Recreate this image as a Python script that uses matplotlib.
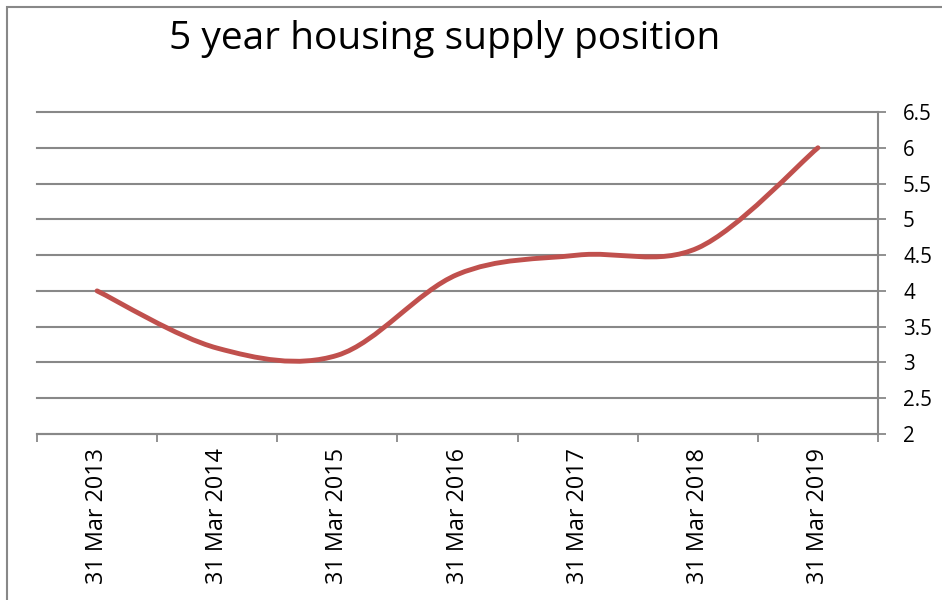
import numpy as np
import matplotlib.pyplot as plt
from matplotlib.path import Path
from matplotlib.patches import PathPatch, Rectangle

plt.rcParams['font.family'] = ['Open Sans', 'DejaVu Sans']

# data
dates = ['31 Mar 2013', '31 Mar 2014', '31 Mar 2015', '31 Mar 2016',
         '31 Mar 2017', '31 Mar 2018', '31 Mar 2019']
supply = [4.0, 3.2, 3.1, 4.23, 4.5, 4.6, 6.0]
yticks = [2, 2.5, 3, 3.5, 4, 4.5, 5, 5.5, 6, 6.5]
ytick_labels = ['2', '2.5', '3', '3.5', '4', '4.5', '5', '5.5', '6', '6.5']

grey = '#888888'
red = '#C0504D'

fig = plt.figure(figsize=(9.42, 6), dpi=100)
ax = fig.add_axes([37 / 942, 1 - 434 / 600, (878 - 37) / 942, (434 - 112) / 600])

# smoothed line like Excel (bezier segments between the points)
x = np.arange(len(supply), dtype=float)
y = np.array(supply)
pts = np.column_stack([x, y])
ext = np.vstack([pts[0], pts, pts[-1]])
verts = [pts[0]]
codes = [Path.MOVETO]
for i in range(len(pts) - 1):
    p0, p1, p2, p3 = ext[i], ext[i + 1], ext[i + 2], ext[i + 3]
    c1 = p1 + (p2 - p0) / 6
    c2 = p2 - (p3 - p1) / 6
    verts += [c1, c2, p2]
    codes += [Path.CURVE4] * 3
ax.add_patch(PathPatch(Path(verts, codes), facecolor='none', edgecolor=red,
                       lw=3.5, capstyle='round', joinstyle='round', zorder=3))

ax.set_xlim(-0.5, len(dates) - 0.5)
ax.set_ylim(2, 6.5)

ax.set_xticks(np.arange(len(dates) + 1) - 0.5)
ax.set_xticklabels([])
ax.set_xticks(x, minor=True)
ax.set_xticklabels(dates, minor=True, rotation=90, fontsize=16.8, va='top')
ax.tick_params(axis='x', which='major', length=6, width=1.3, color=grey, direction='out')
ax.tick_params(axis='x', which='minor', length=0, pad=10)

ax.yaxis.tick_right()
ax.set_yticks(yticks)
ax.set_yticklabels(ytick_labels, fontsize=14.8)
ax.tick_params(axis='y', length=6, width=1.3, color=grey, direction='out', pad=12)

ax.grid(axis='y', color=grey, lw=1.5)
for gl in ax.get_ygridlines():
    gl.set_clip_on(False)
ax.set_axisbelow(True)
for s in ['left', 'top']:
    ax.spines[s].set_visible(False)
for s in ['right', 'bottom']:
    ax.spines[s].set_color(grey)
    ax.spines[s].set_linewidth(1.5)

fig.text(445 / 942, 1 - 39 / 600, '5 year housing supply position',
         fontsize=28, ha='center', va='center')

# outer chart border
fig.patches.append(Rectangle((7 / 942, -0.1), 1.2, 1 - 7 / 600 + 0.1,
                             transform=fig.transFigure, fill=False,
                             edgecolor=grey, lw=1.5))

fig.savefig('out.png', dpi=100)
